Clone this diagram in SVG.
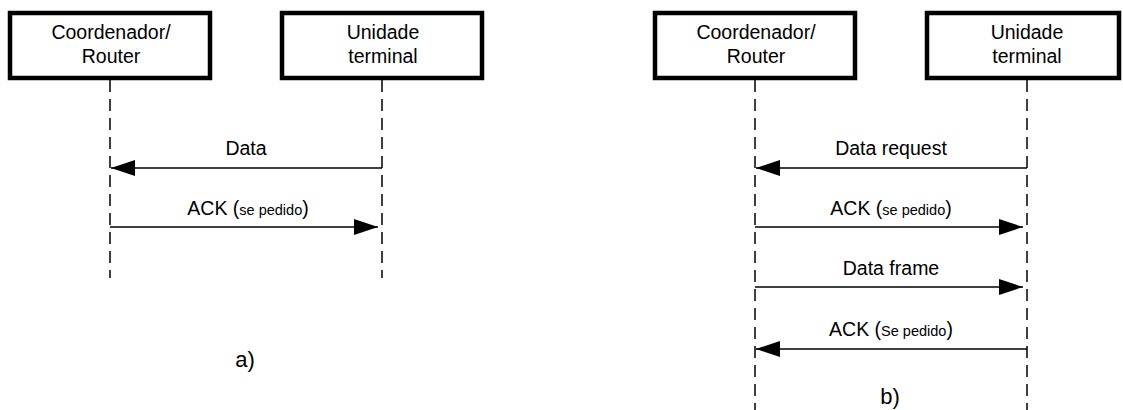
<svg xmlns="http://www.w3.org/2000/svg" width="1123" height="410" viewBox="0 0 1123 410">
  <style>
    .box { fill: #fff; stroke: #000; stroke-width: 4.5; }
    .life { stroke: #000; stroke-width: 1.5; stroke-dasharray: 12 7; fill: none; }
    .msg { stroke: #000; stroke-width: 1.5; fill: none; }
    text { font-family: "Liberation Sans", Arial, sans-serif; font-size: 19.5px; fill: #000; text-anchor: middle; }
    .small { font-size: 14.5px; }
    .caption { font-size: 22px; }
  </style>
  <defs>
    <marker id="head" markerUnits="userSpaceOnUse" markerWidth="24" markerHeight="16" refX="24" refY="8" orient="auto">
      <path d="M0,0 L24,8 L0,16 Z" fill="#000"/>
    </marker>
  </defs>
  <rect width="1123" height="410" fill="#fff"/>

  <!-- lifelines and messages -->
  <g id="connectors">
    <line class="life" x1="110" y1="80" x2="110" y2="278"/>
    <line class="life" x1="382" y1="80" x2="382" y2="278"/>
    <line class="life" x1="755" y1="80" x2="755" y2="410"/>
    <line class="life" x1="1027" y1="80" x2="1027" y2="410"/>

    <line class="msg" x1="382" y1="168" x2="111" y2="168" marker-end="url(#head)"/>
    <line class="msg" x1="110" y1="227" x2="378" y2="227" marker-end="url(#head)"/>

    <line class="msg" x1="1027" y1="168" x2="756" y2="168" marker-end="url(#head)"/>
    <line class="msg" x1="755" y1="227" x2="1023" y2="227" marker-end="url(#head)"/>
    <line class="msg" x1="755" y1="287" x2="1023" y2="287" marker-end="url(#head)"/>
    <line class="msg" x1="1027" y1="349" x2="756" y2="349" marker-end="url(#head)"/>
  </g>

  <!-- diagram a) -->
  <g id="coord-a">
    <rect class="box" x="10" y="13" width="200" height="65"/>
    <text x="111" y="39">Coordenador/</text>
    <text x="111" y="63">Router</text>
  </g>
  <g id="terminal-a">
    <rect class="box" x="282" y="13" width="200" height="65"/>
    <text x="383" y="39">Unidade</text>
    <text x="383" y="63">terminal</text>
  </g>
  <text x="246" y="155">Data</text>
  <text x="248" y="215">ACK (<tspan class="small">se pedido</tspan>)</text>
  <text class="caption" x="245" y="367">a)</text>

  <!-- diagram b) -->
  <g id="coord-b">
    <rect class="box" x="655" y="13" width="200" height="65"/>
    <text x="756" y="39">Coordenador/</text>
    <text x="756" y="63">Router</text>
  </g>
  <g id="terminal-b">
    <rect class="box" x="927" y="13" width="192" height="65"/>
    <text x="1027" y="39">Unidade</text>
    <text x="1027" y="63">terminal</text>
  </g>
  <text x="891" y="155">Data request</text>
  <text x="891" y="215">ACK (<tspan class="small">se pedido</tspan>)</text>
  <text x="891" y="275">Data frame</text>
  <text x="891" y="336">ACK (<tspan class="small">Se pedido</tspan>)</text>
  <text class="caption" x="890" y="404">b)</text>
</svg>
